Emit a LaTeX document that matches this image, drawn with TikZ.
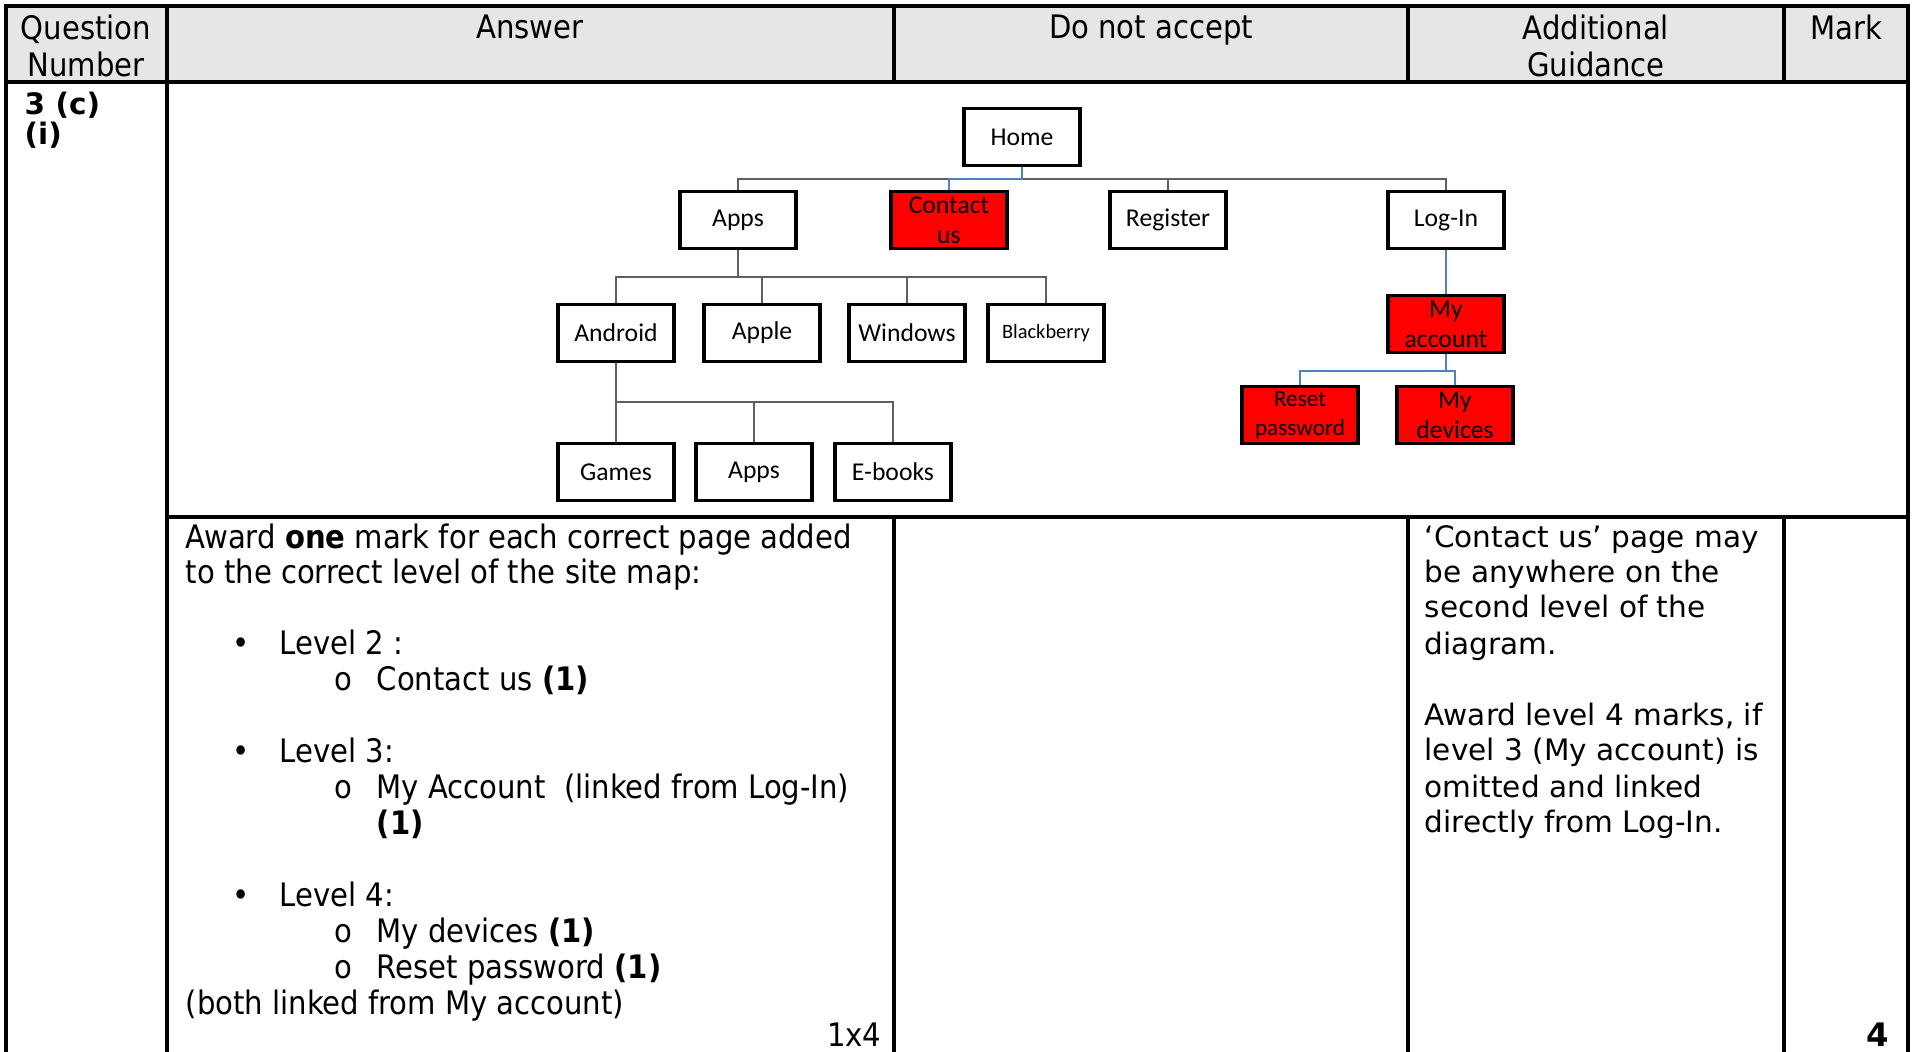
\documentclass[tikz,border=0pt]{standalone}
\usepackage{fontspec}
\setmainfont{DejaVu Sans}
\newfontfamily\condfont{DejaVu Sans Condensed}
\newfontfamily\boxfont{Carlito}
\usepackage{xcolor}
\usepackage{tikz}

\definecolor{linkblue}{RGB}{79,129,189}
\definecolor{headgray}{RGB}{230,230,230}
\definecolor{pagered}{RGB}{255,0,0}
\definecolor{treegray}{RGB}{95,95,95}

\tikzset{
  page/.style={draw, line width=0.9pt, minimum width=1.16cm, minimum height=0.57cm,
    inner sep=1pt, align=center, font=\boxfont\fontsize{7.3}{8.6}\selectfont},
  newpage/.style={page, fill=pagered},
  treeline/.style={treegray, line width=0.4pt},
  bluelink/.style={linkblue, line width=0.5pt},
  rule/.style={line width=1pt},
  head/.style={anchor=north, align=center, inner sep=0pt, font=\condfont\fontsize{9.2}{10.6}\selectfont},
  ans/.style={anchor=base west, inner sep=0pt, font=\condfont\fontsize{9.2}{10.2}\selectfont},
  guide/.style={anchor=base west, inner sep=0pt, font=\fontsize{8.4}{10.2}\selectfont},
  qlabel/.style={anchor=base west, inner sep=0pt, font=\bfseries\fontsize{8.4}{10}\selectfont},
}

\begin{document}
\begin{tikzpicture}[x=0.01cm, y=-0.01cm]
\useasboundingbox (0,0) rectangle (1912,1051);

% table frame
\fill[headgray] (6,6) rectangle (1908,82);
\draw[rule] (6,1060) -- (6,6) -- (1908,6) -- (1908,1060);
\draw[rule] (6,82) -- (1908,82);
\draw[rule] (167,517) -- (1908,517);
\draw[rule] (167,6) -- (167,1060);
\foreach \x in {894,1408,1784} {
  \draw[rule] (\x,6) -- (\x,82);
  \draw[rule] (\x,517) -- (\x,1060);
}

% header
\node[head] (hquestion) at (86,14) {Question\\Number};
\node[head] (hanswer) at (530,14) {Answer};
\node[head] (hreject) at (1151,14) {Do not accept};
\node[head] (hguide) at (1596,14) {Additional\\Guidance};
\node[head] (hmark) at (1846,14) {Mark};

\node[qlabel] (qnum) at (24,114) {3 (c)};
\node[qlabel] (qpart) at (24,144) {(i)};

% site map
\node[page] (home) at (1022,137) {Home};
\node[page] (apps) at (738,220) {Apps};
\node[newpage] (contact) at (949,220) {Contact\\us};
\node[page] (register) at (1168,220) {Register};
\node[page] (login) at (1446,220) {Log-In};
\node[page] (android) at (616,333) {Android};
\node[page] (apple) at (762,333) {Apple};
\node[page] (windows) at (907,333) {Windows};
\node[page, font=\boxfont\fontsize{5.8}{7}\selectfont] (blackberry) at (1046,333) {Blackberry};
\node[page] (games) at (616,472) {Games};
\node[page] (subapps) at (754,472) {Apps};
\node[page] (ebooks) at (893,472) {E-books};
\node[newpage] (account) at (1446,324) {My\\account};
\node[newpage, font=\boxfont\fontsize{6.6}{8.2}\selectfont] (reset) at (1300,415) {Reset\\password};
\node[newpage] (devices) at (1455,415) {My\\devices};

\coordinate (bushome) at (0,179);
\coordinate (busapps) at (0,277);
\coordinate (busandroid) at (0,402);
\coordinate (busaccount) at (0,371);

\draw[treeline] (apps.north) |- (login.north |- bushome) -- (login.north);
\draw[treeline] (register.north) -- (register.north |- bushome);
\draw[bluelink] (home.south) -- (home.south |- bushome) -| (contact.north);
\foreach \n in {android,apple,windows,blackberry}
  \draw[treeline] (apps.south) |- (\n.north |- busapps) -- (\n.north);
\foreach \n in {games,subapps,ebooks}
  \draw[treeline] (android.south) |- (\n.north |- busandroid) -- (\n.north);
\draw[bluelink] (login.south) -- (account.north);
\foreach \n in {reset,devices}
  \draw[bluelink] (account.south) |- (\n.north |- busaccount) -- (\n.north);

% answer column
\node[ans] (a1) at (185,548) {Award \textbf{one} mark for each correct page added};
\node[ans] (a2) at (185,583) {to the correct level of the site map:};
\node[ans] (b1) at (232,654) {•};
\node[ans] (l2) at (279,654) {Level 2 :};
\node[ans] (o1) at (334,690) {o};
\node[ans] (c1) at (376,690) {Contact us \textbf{(1)}};
\node[ans] (b2) at (232,762) {•};
\node[ans] (l3) at (279,762) {Level 3:};
\node[ans] (o2) at (334,798) {o};
\node[ans] (c2) at (376,798) {My Account\ \ (linked from Log-In)};
\node[ans] (c3) at (376,834) {\textbf{(1)}};
\node[ans] (b3) at (232,906) {•};
\node[ans] (l4) at (279,906) {Level 4:};
\node[ans] (o3) at (334,942) {o};
\node[ans] (c4) at (376,942) {My devices \textbf{(1)}};
\node[ans] (o4) at (334,978) {o};
\node[ans] (c5) at (376,978) {Reset password \textbf{(1)}};
\node[ans] (a3) at (185,1014) {(both linked from My account)};
\node[ans, anchor=base east] (total) at (882,1046) {1x4};

% guidance column
\node[guide] (g1) at (1424,547) {‘Contact us’ page may};
\node[guide] (g2) at (1424,582) {be anywhere on the};
\node[guide] (g3) at (1424,617) {second level of the};
\node[guide] (g4) at (1424,654) {diagram.};
\node[guide] (g5) at (1424,725) {Award level 4 marks, if};
\node[guide] (g6) at (1424,760) {level 3 (My account) is};
\node[guide] (g7) at (1424,797) {omitted and linked};
\node[guide] (g8) at (1424,832) {directly from Log-In.};

\node[guide, anchor=base east, font=\bfseries\fontsize{9.2}{10.2}\selectfont] (mark) at (1890,1046) {4};
\end{tikzpicture}
\end{document}
